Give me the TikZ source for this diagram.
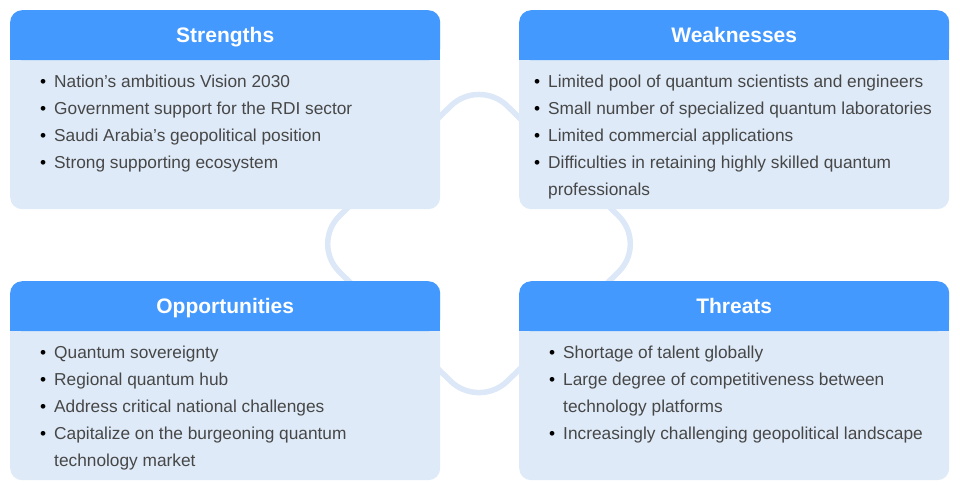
\documentclass[tikz,border=0pt]{standalone}
\usepackage{fontspec}
\setmainfont{Liberation Sans}
\usetikzlibrary{positioning,calc}
\definecolor{swhead}{HTML}{4499FF}
\definecolor{swbody}{HTML}{DEEAF8}
\definecolor{swring}{HTML}{DCE8F7}
\definecolor{swink}{HTML}{474747}
\newcommand{\bul}{\makebox[14pt][l]{\color{black}\textbullet}}
\newcommand{\cnt}{\hspace*{14pt}}
\tikzset{
  card/.style={fill=swbody, rounded corners=12pt, minimum width=430pt, minimum height=199pt, inner sep=0pt, anchor=north west},
  hdr/.style={fill=swhead, rounded corners=12pt, minimum width=430pt, minimum height=50pt, inner sep=0pt, anchor=north},
  ttl/.style={text=white, font=\fontsize{21}{25}\selectfont\bfseries, text height=15pt, text depth=0pt, inner sep=0pt},
  lst/.style={font=\fontsize{17.3}{27}\selectfont, text=swink, align=left, inner sep=0pt, anchor=north west},
  ring/.style={draw=swring, line width=5.5pt, rounded corners=40pt},
}

\begin{document}
\begin{tikzpicture}[x=1pt, y=-1pt]
    \useasboundingbox (0,0) rectangle (960,488);
    % ring behind the cards
    \coordinate (rt) at (479,78);
    \coordinate (rr) at (647,244);
    \coordinate (rb) at (479,409);
    \coordinate (rl) at (311,244);
    \draw[ring] (rt) -- (rr) -- (rb) -- (rl) -- cycle;
    % cards
    \node[card] (str) at (10,10) {};
    \node[card] (wk) at (519,10) {};
    \node[card] (opp) at (10,281) {};
    \node[card] (thr) at (519,281) {};
    % headers, square at the bottom
    \node[hdr] (strh) at (str.north) {};
    \node[hdr] (wkh) at (wk.north) {};
    \node[hdr] (opph) at (opp.north) {};
    \node[hdr] (thrh) at (thr.north) {};
    \fill[swhead] (strh.west) rectangle (strh.south east);
    \fill[swhead] (wkh.west) rectangle (wkh.south east);
    \fill[swhead] (opph.west) rectangle (opph.south east);
    \fill[swhead] (thrh.west) rectangle (thrh.south east);
    \node[ttl] (strt) at (strh) {Strengths};
    \node[ttl] (wkt) at (wkh) {Weaknesses};
    \node[ttl] (oppt) at (opph) {Opportunities};
    \node[ttl] (thrt) at (thrh) {Threats};
    % lists
    \node[lst] (strl) at (40,74.5) {\bul Nation’s ambitious Vision 2030\\\bul Government support for the RDI sector\\\bul Saudi Arabia’s geopolitical position\\\bul Strong supporting ecosystem};
    \node[lst] (wkl) at (534,74.5) {\bul Limited pool of quantum scientists and engineers\\\bul Small number of specialized quantum laboratories\\\bul Limited commercial applications\\\bul Difficulties in retaining highly skilled quantum\\\cnt professionals};
    \node[lst] (oppl) at (40,345.5) {\bul Quantum sovereignty\\\bul Regional quantum hub\\\bul Address critical national challenges\\\bul Capitalize on the burgeoning quantum\\\cnt technology market};
    \node[lst] (thrl) at (549,345.5) {\bul Shortage of talent globally\\\bul Large degree of competitiveness between\\\cnt technology platforms\\\bul Increasingly challenging geopolitical landscape};
\end{tikzpicture}
\end{document}
